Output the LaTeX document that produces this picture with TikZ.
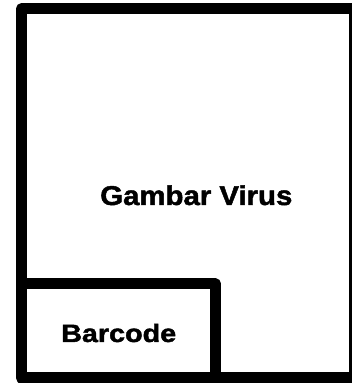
\documentclass[tikz,border=0pt]{standalone}
\usepackage{fontspec}
\setmainfont{Liberation Sans}
\newfontfamily\heavyfont[FakeBold=1.6]{Liberation Sans Bold}
\tikzset{
  frame/.style={draw=black, line width=11pt, line join=round},
  label/.style={inner sep=0pt, anchor=base, font=\heavyfont}
}
\begin{document}
\begin{tikzpicture}[x=1pt,y=1pt]
\useasboundingbox (0,0) rectangle (352,383);
\fill[white] (0,0) rectangle (352,383);
\draw[frame] (21.5,5) rectangle (354.5,374.3);
\draw[frame] (21.5,99) -- (215.5,99) -- (215.5,5);
\node[label] (virus) at (196.3,178) {\scalebox{1.08}[1]{\fontsize{27.2pt}{30pt}\selectfont Gambar Virus}};
\node[label] (barcode) at (118.7,41) {\scalebox{1.15}[1]{\fontsize{25pt}{28pt}\selectfont Barcode}};
\end{tikzpicture}
\end{document}
